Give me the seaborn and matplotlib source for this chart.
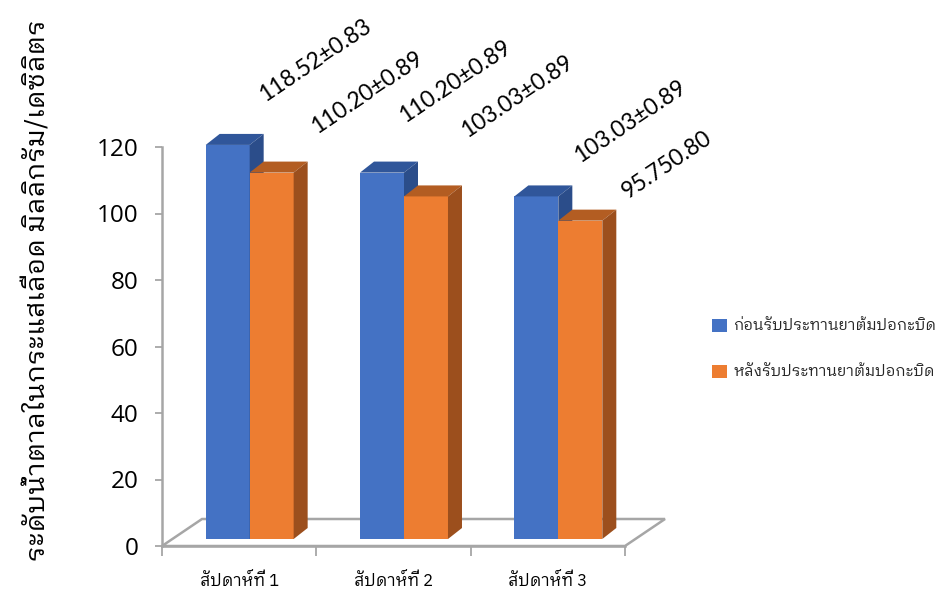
import matplotlib
matplotlib.use("Agg")
import numpy as np
import pandas as pd
import matplotlib.pyplot as plt
import seaborn as sns
from matplotlib.patches import Polygon, Patch, Rectangle
from matplotlib.transforms import ScaledTranslation, IdentityTransform

# ---------------- data ----------------
categories = ["สัปดาห์ที่ 1", "สัปดาห์ที่ 2", "สัปดาห์ที่ 3"]
series_names = ["ก่อนรับประทานยาต้มปอกะบิด", "หลังรับประทานยาต้มปอกะบิด"]
before_values = [118.52, 110.20, 103.03]
after_values = [110.20, 103.03, 95.75]
before_labels = ["118.52±0.83", "110.20±0.89", "103.03±0.89"]
after_labels = ["110.20±0.89", "103.03±0.89", "95.750.80"]
y_ticks = [0, 20, 40, 60, 80, 100, 120]
y_title = "ระดับน้ำตาลในกระแสเลือด มิลลิกรัม/เดซิลิตร"

# ---------------- styles ----------------
front_colors = ["#4472C4", "#ED7D31"]
top_colors = ["#30569A", "#B35D22"]
side_colors = ["#2B4D8A", "#9C4F1D"]
axis_gray = "#A6A6A6"
# label offsets (px) from front top centre: before / after
before_label_off = [(37, 43), (23, 50), (44, 33)]
after_label_off = [(45, 39), (41, 58), (47, 22)]

sns.set_theme(style="white")
THAI = ["IBM Plex Sans Thai Looped", "Noto Sans Thai Looped", "DejaVu Sans"]
plt.rcParams["font.family"] = THAI

W, H = 948, 590
fig = plt.figure(figsize=(W / 100, H / 100), dpi=100)
ax = fig.add_axes([162 / W, 44 / H, (625 - 162) / W, 399 / H])

df = pd.DataFrame({
    "week": categories * 2,
    "series": [series_names[0]] * 3 + [series_names[1]] * 3,
    "value": before_values + after_values,
})
sns.barplot(data=df, x="week", y="value", hue="series", palette=front_colors,
            width=0.57, saturation=1, ax=ax, legend=False, edgecolor="none",
            linewidth=0, order=categories, hue_order=series_names)

ax.set_xlim(-0.5, 2.5)
ax.set_ylim(0, 120)
fig.canvas.draw()

bars = sorted([p for p in ax.patches if isinstance(p, Rectangle)],
              key=lambda p: p.get_x())

shift = (10.5, 7)      # bar front offset (px) into the floor
depth = (14, 11)       # bar depth (px)
floor_depth = (40, 27)

# floor
p0 = ax.transAxes.transform((0, 0))
p1 = ax.transAxes.transform((1, 0))
floor = Polygon([p0, p1, p1 + floor_depth, p0 + floor_depth], closed=True,
                facecolor="none", edgecolor=axis_gray, lw=1.8,
                transform=IdentityTransform(), zorder=1)
floor.set_clip_on(False)
ax.add_artist(floor)

off = ScaledTranslation(shift[0] / 100, shift[1] / 100, fig.dpi_scale_trans)
for i, p in enumerate(bars):
    k = i % 2
    x0, y0, w, h = p.get_x(), p.get_y(), p.get_width(), p.get_height()
    X0, Y0 = ax.transData.transform((x0, y0)) + shift
    X1, Y1 = ax.transData.transform((x0 + w, y0 + h)) + shift
    dx, dy = depth
    p.set_transform(ax.transData + off)
    p.set_zorder(2 + k)
    p.set_facecolor(front_colors[k])
    p.set_clip_on(False)
    top = Polygon([(X0, Y1), (X1, Y1), (X1 + dx, Y1 + dy), (X0 + dx, Y1 + dy)],
                  closed=True, facecolor=top_colors[k], edgecolor="none",
                  transform=IdentityTransform(), zorder=2 + k)
    side = Polygon([(X1, Y0), (X1 + dx, Y0 + dy), (X1 + dx, Y1 + dy), (X1, Y1)],
                   closed=True, facecolor=side_colors[k], edgecolor="none",
                   transform=IdentityTransform(), zorder=2 + k)
    for a in (top, side):
        a.set_clip_on(False)
        ax.add_artist(a)
    g = i // 2
    lab = before_labels[g] if k == 0 else after_labels[g]
    lo = before_label_off[g] if k == 0 else after_label_off[g]
    ax.annotate(lab, xy=(x0 + w / 2, y0 + h), xycoords="data",
                xytext=((lo[0] + shift[0]) * 0.72, (lo[1] + shift[1]) * 0.72),
                textcoords="offset points", rotation=34, rotation_mode="anchor",
                ha="left", va="baseline", fontsize=16.5, family=["Lato", "DejaVu Sans"],
                color="#000000", annotation_clip=False, zorder=5)

# axes styling
for s in ["top", "right"]:
    ax.spines[s].set_visible(False)
for s in ["left", "bottom"]:
    ax.spines[s].set_color(axis_gray)
    ax.spines[s].set_linewidth(1.8)
ax.set_yticks(y_ticks)
ax.set_yticklabels([str(t) for t in y_ticks], family=["Open Sans", "DejaVu Sans"],
                   fontsize=17.5, color="#000000")
ax.tick_params(axis="y", direction="out", length=5, width=1.3, color=axis_gray,
               pad=12, left=True)
ax.set_xticks([-0.5, 0.5, 1.5, 2.5])
ax.set_xticklabels([])
ax.set_xticks([0, 1, 2], minor=True)
ax.set_xticklabels(categories, minor=True, fontsize=12, color="#000000")
ax.tick_params(axis="x", which="major", direction="out", length=7, width=1.3,
               color=axis_gray, bottom=True)
ax.tick_params(axis="x", which="minor", length=0, pad=19)
ax.set_xlabel("")
ax.set_ylabel("")
ax.grid(False)

fig.text(37 / W, 1 - 290 / H, y_title, rotation=90, ha="center", va="center",
         fontsize=19.5, fontweight="normal", color="#000000")

handles = [Patch(facecolor=c, edgecolor="none") for c in front_colors]
fig.legend(handles, series_names, loc="center left",
           bbox_to_anchor=(712 / W, 1 - 349 / H), frameon=False, fontsize=11,
           handlelength=0.95, handleheight=0.95, labelspacing=2.05,
           handletextpad=0.45, borderpad=0, borderaxespad=0)

fig.savefig("out.png", dpi=100)
